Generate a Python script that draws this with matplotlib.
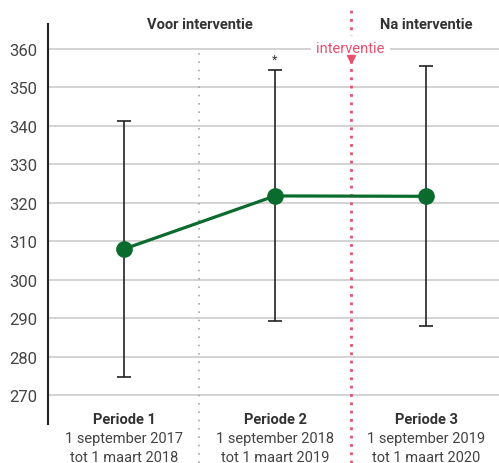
import matplotlib
matplotlib.use("Agg")
import matplotlib.pyplot as plt
from matplotlib.transforms import blended_transform_factory

plt.rcParams['font.family'] = ['Roboto', 'DejaVu Sans']

# data
periods = ["Periode 1", "Periode 2", "Periode 3"]
dateLines = ["1 september 2017\ntot 1 maart 2018",
             "1 september 2018\ntot 1 maart 2019",
             "1 september 2019\ntot 1 maart 2020"]
means = [308.0, 321.8, 321.7]
upper = [341.3, 354.5, 355.6]
lower = [274.7, 289.2, 287.9]
yticks = [270, 280, 290, 300, 310, 320, 330, 340, 350, 360]

GREEN = "#0b6b2e"
PINK = "#e8506e"
TEXT = "#333333"

fig = plt.figure(figsize=(4.99, 4.64), dpi=100)
ax = fig.add_axes([48/499, 1 - 425/464, 451/499, 400/464])

xs = list(range(len(periods)))
ax.set_xlim(-0.503, 2.483)
ax.set_ylim(262.5, 366.5)

for y in yticks:
    ax.axhline(y, color="#c8c8c8", lw=1.1, zorder=0)

errLow = [m - l for m, l in zip(means, lower)]
errHigh = [u - m for m, u in zip(means, upper)]
ax.errorbar(xs, means, yerr=[errLow, errHigh], fmt="none", ecolor="#222222",
            elinewidth=1.2, capsize=5, capthick=1.2, zorder=2)
ax.plot(xs, means, color=GREEN, lw=2.3, marker="o", markersize=11, zorder=3)

ax.text(1, upper[1] + 1.2, "*", ha="center", va="bottom", fontsize=9, color=TEXT)

trans = blended_transform_factory(ax.transData, ax.transAxes)
# grey divider and pink intervention line
ax.plot([0.5, 0.5], [-0.0975, (360 - 262.5) / 104], transform=trans,
        color="#a8a8a8", lw=1.2, ls=(0, (1, 4)), clip_on=False, zorder=1)
ax.plot([1.5, 1.5], [-0.0975, 1.0375], transform=trans,
        color=PINK, lw=2, ls=(0, (1, 2)), clip_on=False, zorder=1)
ax.text(1.5, 360.2, "interventie", ha="center", va="center", fontsize=10.5,
        color=PINK, bbox=dict(facecolor="white", edgecolor="none", pad=4), zorder=5)
ax.plot(1.5, 357.3, marker="v", color=PINK, markersize=6, zorder=6, clip_on=False)

ax.text(0.5, 1.0, "Voor interventie", transform=trans, ha="center", va="center",
        fontsize=10.5, fontweight="bold", color=TEXT)
ax.text(2.0, 1.0, "Na interventie", transform=trans, ha="center", va="center",
        fontsize=10.5, fontweight="bold", color=TEXT)

for x, name, dates in zip(xs, periods, dateLines):
    ax.text(x, 0.0125, name, transform=trans, ha="center", va="center",
            fontsize=10.5, fontweight="bold", color=TEXT)
    ax.text(x, -0.035, dates.split("\n")[0], transform=trans, ha="center", va="center",
            fontsize=10.5, color="#444444")
    ax.text(x, -0.0825, dates.split("\n")[1], transform=trans, ha="center", va="center",
            fontsize=10.5, color="#444444")

ax.set_yticks(yticks)
ax.set_yticklabels([str(y) for y in yticks], fontsize=12, color="#444444")
ax.tick_params(axis="y", length=0, pad=8)
ax.set_xticks([])
for side in ["top", "right", "bottom"]:
    ax.spines[side].set_visible(False)
ax.spines["left"].set_color("#222222")
ax.spines["left"].set_linewidth(1.5)

fig.savefig("out.png", dpi=100)
